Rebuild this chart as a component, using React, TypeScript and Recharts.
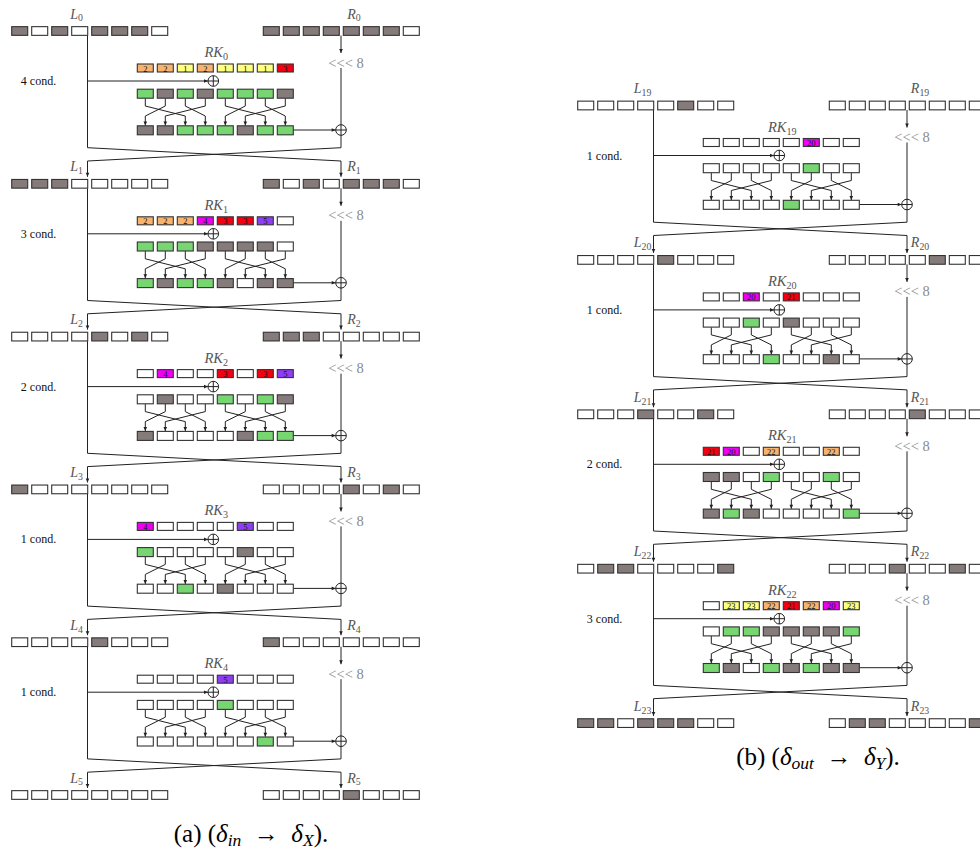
import React from 'react';
import { ScatterChart, Scatter, XAxis, YAxis } from 'recharts';

// W = white, D = dark (active difference), G = green
// top cell i goes to bottom cell permutation[i]
const permutation = [2, 0, 3, 1, 6, 4, 7, 5];

// panel (a): rounds 0..4, rows L0..L5 / R0..R5
const firstA = 0;
const condA = [4, 3, 2, 1, 1];
const leftA = ['DWDWDDDW', 'DDDWWWWW', 'WWWWDWDW', 'DWWWWWWW', 'WWWWDWWW', 'WWWWWWWW'];
const rightA = ['DDDDDDDW', 'DWDWDDDW', 'DDDWWWWW', 'WWWWDWDW', 'DWWWWWWW', 'WWWWDWWW'];
const keyA = [
  [2, 2, 1, 2, 1, 1, 1, 3],
  [2, 2, 2, 4, 3, 3, 5, 0],
  [0, 4, 0, 0, 3, 0, 3, 5],
  [4, 0, 0, 0, 0, 5, 0, 0],
  [0, 0, 0, 0, 5, 0, 0, 0],
];
const midA = ['GDGDGGGD', 'GGGDDDDW', 'WDWWGWGD', 'GWWWWDWW', 'WWWWGWWW'];
const outA = ['DDGGGDGG', 'GDGGDWDD', 'DWWWWDGG', 'WWGWDWWW', 'WWWWWWGW'];

// panel (b): rounds 19..22, rows L19..L23 / R19..R23
const firstB = 19;
const condB = [1, 1, 2, 3];
const leftB = ['WWWWWDWW', 'WWWWDWWW', 'WWWDWWDW', 'WDDWWWWD', 'DDWDDDWW'];
const rightB = ['WWWWWWWW', 'WWWWWDWW', 'WWWWDWWW', 'WWWDWWDW', 'WDDWWWWD'];
const keyB = [
  [0, 0, 0, 0, 0, 20, 0, 0],
  [0, 0, 20, 0, 21, 0, 0, 0],
  [21, 20, 0, 22, 0, 0, 22, 0],
  [0, 23, 23, 22, 21, 22, 20, 23],
];
const midB = ['WWWWWGWW', 'WWGWDWWW', 'DDWGWWGW', 'WGGDDDDG'];
const outB = ['WWWWGWWW', 'WWWGWWDW', 'DGDWWWWG', 'GDWGDGDD'];

// ---- layout ----
const W = 980;
const H = 852;
const PITCH = 20;
const CELL_W = 16;
const CELL_H = 9;
const INK = '#222';
const FONT = '"Liberation Serif", "Times New Roman", serif';

const FILL: Record<string, string> = { W: '#ffffff', D: '#857b7a', G: '#78d672' };
const KEY_FILL: Record<number, string> = {
  0: '#ffffff', 1: '#ffff80', 2: '#f8b36f', 3: '#f40012', 4: '#f000f0', 5: '#8f3ff3',
  20: '#f000f0', 21: '#f40012', 22: '#f8b36f', 23: '#ffff80',
};

const L_START = 11.7;
const R_START = 263.3;
const K_START = 137.3;
const LX = 87.5;
const RX = 341;
const XOR_X = 213.3;
const XOR_R = 5.3;

type Pt = { x: number; y: number };
type Seg = { t: string; it?: boolean; sub?: boolean };

const cells: any[] = [];
const lines: Pt[][] = [];
const tips: any[] = [];
const xors: Pt[] = [];
const texts: any[] = [];

const lab = (s: string, n: number): Seg[] => [{ t: s, it: true }, { t: String(n), sub: true }];

function addRow(states: string, x0: number, y: number, h = CELL_H) {
  states.split('').forEach((s, i) => cells.push({ x: x0 + i * PITCH + CELL_W / 2, y, fill: FILL[s], h }));
}

function buildPanel(p: any) {
  const lx = p.dx + LX;
  const rx = p.dx + RX;
  const xx = p.dx + XOR_X;
  const kx = (i: number) => p.dx + K_START + i * PITCH + CELL_W / 2;
  p.left.forEach((row: string, r: number) => {
    const y0 = p.top + r * p.step;
    const idx = p.first + r;
    addRow(row, p.dx + L_START, y0, 8.7);
    addRow(p.right[r], p.dx + R_START, y0, 8.7);
    texts.push({ x: lx - 11, y: y0 - 17.5, segs: lab('L', idx), size: 14, color: '#555' });
    texts.push({ x: rx + 13, y: y0 - 17.5, segs: lab('R', idx), size: 14, color: '#555' });
    if (r >= p.key.length) return;

    p.key[r].forEach((n: number, i: number) =>
      cells.push({ x: kx(i), y: y0 + 37, fill: KEY_FILL[n], h: 8, num: n || null }));
    addRow(p.mid[r], p.dx + K_START, y0 + 62.7);
    addRow(p.out[r], p.dx + K_START, y0 + 99.3);

    texts.push({ x: xx + 3, y: y0 + 21, segs: lab('RK', idx), size: 14.5, color: '#555' });
    texts.push({ x: rx + 5, y: y0 + 31.5, segs: [{ t: '<<< 8' }], size: 14.5, color: '#8a8a8a' });
    texts.push({ x: lx - 49, y: y0 + 50, segs: [{ t: `${p.cond[r]} cond.` }], size: 12, color: '#111' });

    // L branch and arrow to first xor
    lines.push([{ x: lx, y: y0 + 4.5 }, { x: lx, y: y0 + 116.7 }]);
    lines.push([{ x: lx, y: y0 + 50 }, { x: xx - XOR_R, y: y0 + 50 }]);
    tips.push({ x: xx - XOR_R, y: y0 + 50, dir: 'r' });
    // R branch with rotation
    lines.push([{ x: rx, y: y0 + 4.5 }, { x: rx, y: y0 + 22 }]);
    tips.push({ x: rx, y: y0 + 22, dir: 'd' });
    lines.push([{ x: rx, y: y0 + 37 }, { x: rx, y: y0 + 116.7 }]);
    xors.push({ x: xx, y: y0 + 50 });
    xors.push({ x: rx, y: y0 + 99 });
    // permutation wires
    permutation.forEach((j, i) => {
      lines.push([
        { x: kx(i), y: y0 + 67.3 },
        { x: kx(i), y: y0 + 75 },
        { x: kx(j), y: y0 + 85 },
        { x: kx(j), y: y0 + 94.5 },
      ]);
      tips.push({ x: kx(j), y: y0 + 94.5, dir: 'd' });
    });
    // output into the R xor
    lines.push([{ x: p.dx + K_START + 7 * PITCH + CELL_W, y: y0 + 99 }, { x: rx - XOR_R, y: y0 + 99 }]);
    tips.push({ x: rx - XOR_R, y: y0 + 99, dir: 'r' });
    // swap
    const ny = y0 + p.step;
    lines.push([{ x: lx, y: y0 + 116.7 }, { x: rx, y: y0 + 130 }, { x: rx, y: ny - 7 }]);
    lines.push([{ x: rx, y: y0 + 116.7 }, { x: lx, y: y0 + 130 }, { x: lx, y: ny - 7 }]);
    tips.push({ x: rx, y: ny - 7, dir: 'd' });
    tips.push({ x: lx, y: ny - 7, dir: 'd' });
  });
}

buildPanel({ first: firstA, cond: condA, left: leftA, right: rightA, key: keyA, mid: midA, out: outA, dx: 0, top: 31, step: 152.8 });
buildPanel({ first: firstB, cond: condB, left: leftB, right: rightB, key: keyB, mid: midB, out: outB, dx: 566, top: 105.5, step: 154.4 });

texts.push({
  x: 251, y: 833, size: 25, color: '#000',
  segs: [{ t: '(a) (' }, { t: 'δ', it: true }, { t: 'in', it: true, sub: true }, { t: '  →  ' }, { t: 'δ', it: true }, { t: 'X', it: true, sub: true }, { t: ').' }],
});
texts.push({
  x: 818, y: 756, size: 25, color: '#000',
  segs: [{ t: '(b) (' }, { t: 'δ', it: true }, { t: 'out', it: true, sub: true }, { t: '  →  ' }, { t: 'δ', it: true }, { t: 'Y', it: true, sub: true }, { t: ').' }],
});

const NoDot = () => <g />;

const CellShape = (props: any) => {
  const { cx, cy, payload } = props;
  const h = payload.h;
  return (
    <g>
      <rect x={cx - CELL_W / 2} y={cy - h / 2} width={CELL_W} height={h} fill={payload.fill} stroke="#333" strokeWidth={1.1} />
      {payload.num ? (
        <text x={cx} y={cy + 0.5} textAnchor="middle" dominantBaseline="central" style={{ fontFamily: FONT, fontSize: 8.5 }} fill="#111">
          {payload.num}
        </text>
      ) : null}
    </g>
  );
};

const TipShape = (props: any) => {
  const { cx, cy, payload } = props;
  const d = payload.dir === 'd'
    ? `M${cx},${cy} L${cx - 1.8},${cy - 4} L${cx + 1.8},${cy - 4} Z`
    : `M${cx},${cy} L${cx - 4},${cy - 1.8} L${cx - 4},${cy + 1.8} Z`;
  return <path d={d} fill={INK} />;
};

const XorShape = (props: any) => {
  const { cx, cy } = props;
  return (
    <g stroke={INK} strokeWidth={1}>
      <circle cx={cx} cy={cy} r={XOR_R} fill="#fff" />
      <line x1={cx - XOR_R} y1={cy} x2={cx + XOR_R} y2={cy} />
      <line x1={cx} y1={cy - XOR_R} x2={cx} y2={cy + XOR_R} />
    </g>
  );
};

const TextShape = (props: any) => {
  const { cx, cy, payload } = props;
  const size = payload.size;
  let shift = 0;
  const spans = payload.segs.map((s: Seg, i: number) => {
    const target = s.sub ? size * 0.28 : 0;
    const dy = target - shift;
    shift = target;
    return (
      <tspan key={i} dy={dy} style={{ fontSize: s.sub ? size * 0.7 : size, fontStyle: s.it ? 'italic' : 'normal' }}>
        {s.t}
      </tspan>
    );
  });
  return (
    <text x={cx} y={cy} textAnchor="middle" dominantBaseline="central" fill={payload.color} style={{ fontFamily: FONT, whiteSpace: 'pre' }}>
      {spans}
    </text>
  );
};

export default function App() {
  return (
    <div style={{ position: 'absolute', left: 0, top: 0, background: '#fff', fontFamily: FONT }}>
      <ScatterChart width={W} height={H} margin={{ top: 0, right: 0, bottom: 0, left: 0 }}>
        <XAxis type="number" dataKey="x" domain={[0, W]} hide allowDataOverflow />
        <YAxis type="number" dataKey="y" domain={[0, H]} hide reversed allowDataOverflow />
        {lines.map((pts, i) => (
          <Scatter
            key={`w${i}`}
            data={pts}
            line={{ stroke: INK, strokeWidth: 1 }}
            lineType="joint"
            shape={NoDot}
            isAnimationActive={false}
          />
        ))}
        <Scatter data={cells} shape={CellShape} isAnimationActive={false} />
        <Scatter data={xors} shape={XorShape} isAnimationActive={false} />
        <Scatter data={tips} shape={TipShape} isAnimationActive={false} />
        <Scatter data={texts} shape={TextShape} isAnimationActive={false} />
      </ScatterChart>
    </div>
  );
}
